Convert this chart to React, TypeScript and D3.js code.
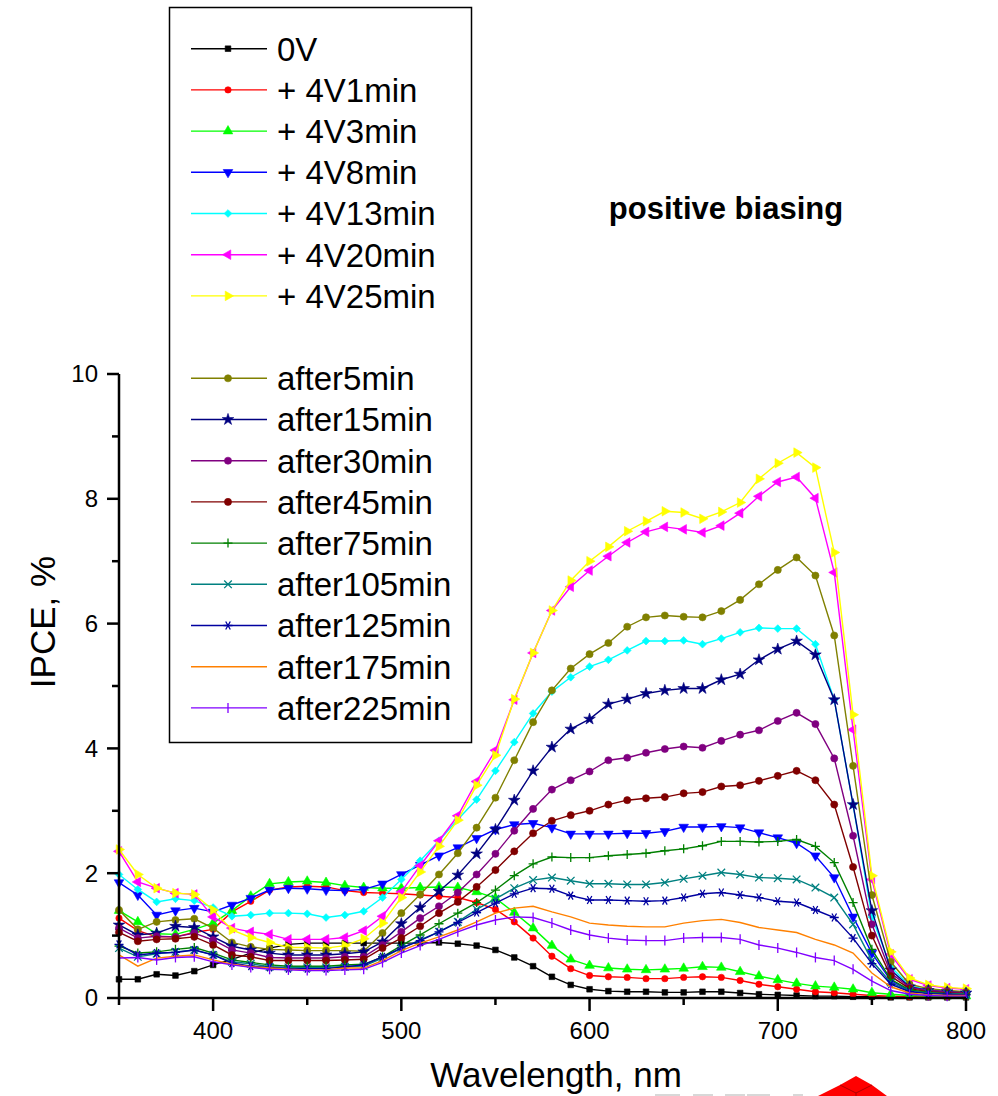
import React from 'react';
import * as d3 from 'd3';

// wavelength grid, nm
const wavelengths = [
  350, 360, 370, 380, 390, 400, 410, 420, 430, 440,
  450, 460, 470, 480, 490, 500, 510, 520, 530, 540,
  550, 560, 570, 580, 590, 600, 610, 620, 630, 640,
  650, 660, 670, 680, 690, 700, 710, 720, 730, 740,
  750, 760, 770, 780, 790, 800,
];

// IPCE, %
const v0V = [0.30,0.30,0.38,0.36,0.43,0.53,0.62,0.72,0.80,0.86, 0.88,0.88,0.88,0.88,0.88,0.88,0.88,0.89,0.87,0.84, 0.77,0.65,0.51,0.34,0.21,0.14,0.11,0.10,0.10,0.09, 0.09,0.10,0.10,0.08,0.06,0.05,0.04,0.03,0.03,0.02, 0.02,0.01,0.01,0.01,0.01,0.01];
const v1min = [1.28,1.08,0.98,0.98,1.05,1.10,1.38,1.55,1.73,1.78, 1.79,1.78,1.72,1.69,1.68,1.67,1.65,1.63,1.61,1.53, 1.42,1.22,0.96,0.67,0.47,0.36,0.34,0.33,0.31,0.31, 0.33,0.34,0.33,0.28,0.22,0.18,0.14,0.10,0.085,0.06, 0.04,0.03,0.02,0.02,0.02,0.02];
const v3min = [1.40,1.22,1.03,1.02,1.10,1.20,1.40,1.63,1.83,1.86, 1.87,1.85,1.80,1.77,1.76,1.76,1.77,1.78,1.77,1.70, 1.60,1.37,1.12,0.84,0.62,0.52,0.48,0.46,0.45,0.46, 0.475,0.50,0.49,0.42,0.35,0.29,0.235,0.19,0.17,0.14, 0.085,0.06,0.04,0.03,0.03,0.03];
const v8min = [1.85,1.65,1.33,1.40,1.44,1.38,1.49,1.60,1.73,1.76, 1.75,1.73,1.72,1.74,1.83,1.98,2.13,2.28,2.41,2.56, 2.70,2.78,2.80,2.73,2.63,2.63,2.63,2.64,2.64,2.67, 2.74,2.74,2.75,2.73,2.65,2.57,2.48,2.28,1.93,1.30, 0.72,0.28,0.12,0.08,0.07,0.06];
const v13min = [1.98,1.74,1.54,1.59,1.56,1.45,1.31,1.33,1.36,1.36, 1.35,1.29,1.33,1.39,1.61,1.90,2.20,2.52,2.86,3.18, 3.64,4.10,4.56,4.91,5.14,5.31,5.42,5.57,5.72,5.72, 5.73,5.67,5.76,5.86,5.93,5.92,5.92,5.67,4.78,3.10, 1.30,0.50,0.20,0.12,0.10,0.08];
const v20min = [2.35,1.86,1.76,1.68,1.66,1.30,1.12,1.06,1.02,0.94, 0.94,0.94,0.97,1.08,1.31,1.70,2.12,2.52,2.92,3.47, 3.97,4.78,5.53,6.21,6.59,6.85,7.08,7.30,7.47,7.55, 7.51,7.46,7.57,7.77,8.04,8.27,8.35,8.01,6.82,4.30, 1.90,0.70,0.30,0.20,0.16,0.14];
const v25min = [2.38,1.98,1.76,1.68,1.66,1.41,1.09,0.97,0.89,0.81, 0.81,0.80,0.84,0.95,1.20,1.61,2.02,2.43,2.85,3.41, 3.89,4.79,5.53,6.21,6.69,7.00,7.23,7.48,7.64,7.80, 7.78,7.68,7.79,7.94,8.32,8.57,8.74,8.50,7.14,4.54, 1.96,0.74,0.32,0.21,0.17,0.15];
const vAfter5 = [1.41,1.10,1.22,1.25,1.27,1.12,0.89,0.82,0.78,0.77, 0.76,0.76,0.76,0.75,1.04,1.36,1.66,1.98,2.32,2.73, 3.21,3.81,4.42,4.93,5.28,5.51,5.69,5.95,6.10,6.13, 6.11,6.10,6.20,6.38,6.63,6.86,7.06,6.77,5.81,3.72, 1.65,0.58,0.22,0.15,0.12,0.10];
const vAfter15 = [1.17,1.01,1.04,1.15,1.13,0.98,0.83,0.77,0.72,0.69, 0.69,0.69,0.71,0.74,0.90,1.19,1.45,1.71,1.97,2.31, 2.70,3.17,3.64,4.02,4.31,4.47,4.71,4.79,4.88,4.93, 4.96,4.96,5.10,5.19,5.42,5.59,5.72,5.50,4.78,3.10, 1.40,0.45,0.18,0.12,0.10,0.08];
const vAfter30 = [1.12,0.96,0.99,0.98,1.04,0.93,0.77,0.72,0.65,0.64, 0.64,0.64,0.66,0.66,0.85,1.06,1.28,1.47,1.69,1.98, 2.31,2.68,3.03,3.34,3.49,3.63,3.81,3.85,3.93,3.99, 4.03,4.01,4.12,4.22,4.29,4.44,4.57,4.39,3.84,2.60, 1.18,0.40,0.17,0.12,0.10,0.08];
const vAfter45 = [1.05,0.91,0.94,0.95,0.98,0.85,0.69,0.66,0.60,0.60, 0.60,0.60,0.61,0.62,0.80,0.96,1.15,1.36,1.54,1.78, 2.05,2.35,2.64,2.84,2.93,3.00,3.10,3.17,3.20,3.22, 3.28,3.30,3.39,3.41,3.48,3.56,3.64,3.49,3.10,2.10, 1.00,0.35,0.15,0.10,0.08,0.07];
const vAfter75 = [0.83,0.72,0.74,0.78,0.81,0.72,0.61,0.57,0.53,0.51, 0.51,0.51,0.53,0.54,0.66,0.84,1.01,1.19,1.36,1.53, 1.73,1.96,2.15,2.26,2.25,2.25,2.28,2.30,2.32,2.36, 2.39,2.44,2.51,2.51,2.50,2.51,2.54,2.43,2.17,1.53, 0.78,0.30,0.13,0.09,0.07,0.06];
const vAfter105 = [0.80,0.66,0.71,0.74,0.77,0.69,0.58,0.55,0.50,0.49, 0.49,0.49,0.50,0.51,0.64,0.80,0.93,1.06,1.22,1.42, 1.59,1.76,1.89,1.93,1.88,1.83,1.83,1.82,1.82,1.85, 1.91,1.96,2.01,1.98,1.93,1.92,1.90,1.77,1.61,1.18, 0.60,0.25,0.11,0.08,0.07,0.06];
const vAfter125 = [0.86,0.69,0.72,0.73,0.77,0.69,0.56,0.51,0.49,0.47, 0.47,0.47,0.50,0.53,0.66,0.80,0.92,1.06,1.21,1.37, 1.52,1.67,1.76,1.75,1.64,1.57,1.57,1.56,1.55,1.56, 1.61,1.67,1.69,1.65,1.61,1.55,1.53,1.41,1.29,0.96, 0.55,0.22,0.10,0.07,0.06,0.05];
const vAfter175 = [0.69,0.51,0.64,0.67,0.69,0.61,0.54,0.50,0.48,0.46, 0.45,0.45,0.48,0.48,0.60,0.76,0.88,0.98,1.09,1.22, 1.36,1.44,1.47,1.38,1.30,1.20,1.17,1.15,1.14,1.14, 1.20,1.24,1.26,1.21,1.13,1.09,1.05,0.94,0.85,0.72, 0.40,0.18,0.08,0.05,0.04,0.04];
const vAfter225 = [0.64,0.65,0.61,0.65,0.66,0.58,0.53,0.49,0.46,0.45, 0.44,0.44,0.45,0.46,0.57,0.72,0.84,0.94,1.06,1.17, 1.25,1.30,1.29,1.20,1.09,1.01,0.96,0.93,0.92,0.92, 0.96,0.97,0.97,0.94,0.85,0.80,0.73,0.65,0.60,0.46, 0.27,0.12,0.06,0.04,0.03,0.03];

const seriesNames = ['0V', '+ 4V1min', '+ 4V3min', '+ 4V8min', '+ 4V13min', '+ 4V20min', '+ 4V25min',
  'after5min', 'after15min', 'after30min', 'after45min', 'after75min', 'after105min', 'after125min', 'after175min', 'after225min'];
const seriesValues = [v0V, v1min, v3min, v8min, v13min, v20min, v25min,
  vAfter5, vAfter15, vAfter30, vAfter45, vAfter75, vAfter105, vAfter125, vAfter175, vAfter225];
const seriesColors = ['#000000', '#ff0000', '#00ff00', '#0000ff', '#00ffff', '#ff00ff', '#ffff00',
  '#808000', '#000080', '#800080', '#800000', '#008000', '#008080', '#0000a0', '#ff8000', '#8000ff'];
const seriesMarkers = ['square', 'circle', 'triUp', 'triDown', 'diamond', 'triLeft', 'triRight',
  'circleL', 'star', 'circleL', 'circleL', 'plus', 'cross', 'asterisk', 'none', 'vbar'];

const xTicks = [400, 500, 600, 700, 800];
const xMinor = [350, 450, 550, 650, 750];
const yTicks = [0, 2, 4, 6, 8, 10];
const yMinor = [1, 3, 5, 7, 9];

const W = 998;
const H = 1096;
const FONT = '"Liberation Sans", Arial, Helvetica, sans-serif';

const x = d3.scaleLinear().domain([350, 800]).range([119, 966]);
const y = d3.scaleLinear().domain([0, 10]).range([998, 374]);

const strokeMarkers: Record<string, string> = {
  plus: 'M-4.5,0H4.5M0,-4.5V4.5',
  cross: 'M-3.8,-3.8L3.8,3.8M-3.8,3.8L3.8,-3.8',
  asterisk: 'M-4.5,0H4.5M-2.3,-4L2.3,4M-2.3,4L2.3,-4',
  vbar: 'M0,-5V5',
};

function Marker({ kind, color, cx, cy }: { kind: string; color: string; cx: number; cy: number }) {
  if (kind === 'none') return null;
  if (strokeMarkers[kind]) {
    return <path d={strokeMarkers[kind]} transform={`translate(${cx},${cy})`} fill="none" stroke={color} strokeWidth={1.3} />;
  }
  let d = '';
  let rot = 0;
  if (kind === 'square') d = d3.symbol().type(d3.symbolSquare).size(32)() as string;
  else if (kind === 'circle') d = d3.symbol().type(d3.symbolCircle).size(32)() as string;
  else if (kind === 'circleL') d = d3.symbol().type(d3.symbolCircle).size(40)() as string;
  else if (kind === 'star') d = d3.symbol().type(d3.symbolStar).size(42)() as string;
  else if (kind === 'diamond') { d = d3.symbol().type(d3.symbolSquare).size(30)() as string; rot = 45; }
  else {
    d = d3.symbol().type(d3.symbolTriangle).size(40)() as string;
    rot = kind === 'triDown' ? 180 : kind === 'triLeft' ? -90 : kind === 'triRight' ? 90 : 0;
  }
  return <path d={d} transform={`translate(${cx},${cy}) rotate(${rot})`} fill={color} stroke={color} strokeWidth={0.6} />;
}

export default function App() {
  const line = d3.line<number>()
    .x((_, i) => x(wavelengths[i]))
    .y(v => y(v));

  const legendRow = (i: number) => 48.7 + (i < 7 ? i : i + 1) * 41.2;

  return (
    <svg width={W} height={H} style={{ position: 'absolute', left: 0, top: 0, background: '#fff' }} fontFamily={FONT}>
      <rect width={W} height={H} fill="#fff" />

      {/* series */}
      {seriesValues.map((vals, s) => (
        <g key={seriesNames[s]}>
          <path d={line(vals) as string} fill="none" stroke={seriesColors[s]} strokeWidth={1.4} />
          {vals.map((v, i) => (
            <Marker key={i} kind={seriesMarkers[s]} color={seriesColors[s]} cx={x(wavelengths[i])} cy={y(v)} />
          ))}
        </g>
      ))}

      {/* axes */}
      <g stroke="#000" strokeWidth={2.5}>
        <line x1={x(350)} x2={x(800)} y1={y(0)} y2={y(0)} />
        <line x1={x(350)} x2={x(350)} y1={y(0)} y2={y(10)} />
        {xTicks.map(t => <line key={t} x1={x(t)} x2={x(t)} y1={y(0)} y2={y(0) + 13} />)}
        {xMinor.map(t => <line key={t} x1={x(t)} x2={x(t)} y1={y(0)} y2={y(0) + 7} />)}
        {yTicks.map(t => <line key={t} x1={x(350) - 12} x2={x(350)} y1={y(t)} y2={y(t)} />)}
        {yMinor.map(t => <line key={t} x1={x(350) - 7} x2={x(350)} y1={y(t)} y2={y(t)} />)}
      </g>
      <g fontSize={24} fill="#000">
        {xTicks.map(t => (
          <text key={t} x={x(t)} y={1039} textAnchor="middle">{t}</text>
        ))}
        {yTicks.map(t => (
          <text key={t} x={98} y={y(t)} dy="0.35em" textAnchor="end">{t}</text>
        ))}
      </g>
      <text x={556} y={1087} fontSize={35} textAnchor="middle">Wavelength, nm</text>
      <text transform="translate(55,622) rotate(-90)" fontSize={35} textAnchor="middle">IPCE, %</text>

      <text x={726} y={219} fontSize={31} fontWeight="bold" textAnchor="middle">positive biasing</text>

      {/* legend */}
      <rect x={169.5} y={7.5} width={302} height={735} fill="#fff" stroke="#000" strokeWidth={1.5} />
      {seriesNames.map((name, i) => {
        const ly = legendRow(i);
        return (
          <g key={name}>
            <line x1={191} x2={267} y1={ly} y2={ly} stroke={seriesColors[i]} strokeWidth={1.4} />
            <Marker kind={seriesMarkers[i]} color={seriesColors[i]} cx={228} cy={ly} />
            <text x={277} y={ly} dy="0.36em" fontSize={33}>{name}</text>
          </g>
        );
      })}

      {/* watermark fragment */}
      <g>
        <rect x={655} y={1094} width={25} height={2} fill="#d8d8d8" />
        <rect x={693} y={1094} width={20} height={2} fill="#d8d8d8" />
        <rect x={725} y={1094} width={20} height={2} fill="#d8d8d8" />
        <rect x={747} y={1094} width={23} height={2} fill="#d8d8d8" />
        <rect x={793} y={1094} width={10} height={2} fill="#d8d8d8" />
        <polygon points="818,1096 840,1085 856,1076 872,1085 887,1096" fill="#ff0000" />
        <path d="M840,1085L856,1093L872,1085M856,1093V1096" fill="none" stroke="#b00000" strokeWidth={1} />
      </g>
    </svg>
  );
}
